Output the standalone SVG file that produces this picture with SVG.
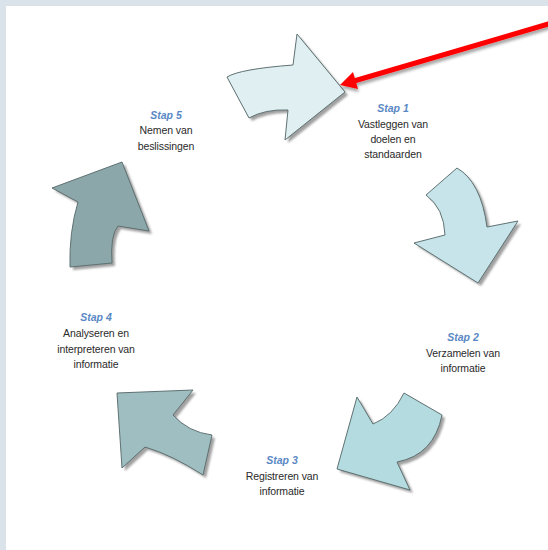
<svg xmlns="http://www.w3.org/2000/svg" width="548" height="550" viewBox="0 0 548 550">
  <style>
    .arrow { stroke: #5f7172; stroke-width: 1; stroke-linejoin: miter; }
    .shadow { fill: #a0a0a0; filter: url(#blur); }
    .step { font-family: "Liberation Sans", Arial, sans-serif; font-size: 10.5px; font-style: italic; font-weight: bold; fill: #5a88c4; text-anchor: middle; }
    .lbl { font-family: "Liberation Sans", Arial, sans-serif; font-size: 10.5px; fill: #2a2a2a; text-anchor: middle; letter-spacing: -0.1px; }
  </style>
  <defs>
    <filter id="blur" x="-20%" y="-20%" width="140%" height="140%">
      <feGaussianBlur stdDeviation="0.8"/>
    </filter>
    <filter id="redShadow" x="-10%" y="-50%" width="120%" height="200%">
      <feGaussianBlur in="SourceAlpha" stdDeviation="1.5"/>
      <feOffset dx="1" dy="3" result="b"/>
      <feComponentTransfer><feFuncA type="linear" slope="0.35"/></feComponentTransfer>
      <feMerge><feMergeNode/><feMergeNode in="SourceGraphic"/></feMerge>
    </filter>
    <path id="a1" d="M227,77 Q240,69 293,65 L297,34 L345,92 L285,140 L288,110 Q265,109 249,118 Z"/>
    <path id="a2" d="M457,168 Q481,182 487,227 L518,221 L478,283 L414,243 L445,235 Q444,208 426,195 Z"/>
    <path id="a3" d="M404,393 L442,415 Q434,455 397,462 L410,490 L337,469 L357,397 L373,424 Q393,416 404,393 Z"/>
    <path id="a4" d="M117,393 L193,390 L173,415 Q188,432 212,435 L203,475 Q172,455 145,447 L122,468 Z"/>
    <path id="a5" d="M52,188 L122,162 L149,231 L118,226 Q110,235 112,263 L70,267 Q69,232 78,202 Z"/>
  </defs>

  <rect x="0" y="0" width="548" height="550" fill="#dbe3ea"/>
  <rect x="6" y="6" width="542" height="544" fill="#ffffff"/>

  <g id="step1">
    <use href="#a1" class="shadow" transform="translate(3,3)"/>
    <use href="#a1" class="arrow" fill="#dfeff2"/>
    <text class="step" x="393" y="112">Stap 1</text>
    <text class="lbl" x="393" y="128">Vastleggen van</text>
    <text class="lbl" x="393" y="143">doelen en</text>
    <text class="lbl" x="393" y="158">standaarden</text>
  </g>

  <g id="step2">
    <use href="#a2" class="shadow" transform="translate(3,3)"/>
    <use href="#a2" class="arrow" fill="#c6e4e9"/>
    <text class="step" x="463" y="341">Stap 2</text>
    <text class="lbl" x="463" y="357">Verzamelen van</text>
    <text class="lbl" x="463" y="372">informatie</text>
  </g>

  <g id="step3">
    <use href="#a3" class="shadow" transform="translate(3,3)"/>
    <use href="#a3" class="arrow" fill="#b3dbe0"/>
    <text class="step" x="282" y="464">Stap 3</text>
    <text class="lbl" x="282" y="480">Registreren van</text>
    <text class="lbl" x="282" y="495">informatie</text>
  </g>

  <g id="step4">
    <use href="#a4" class="shadow" transform="translate(3,3)"/>
    <use href="#a4" class="arrow" fill="#9fbec1"/>
    <text class="step" x="96" y="321">Stap 4</text>
    <text class="lbl" x="96" y="337">Analyseren en</text>
    <text class="lbl" x="96" y="353">interpreteren van</text>
    <text class="lbl" x="96" y="368">informatie</text>
  </g>

  <g id="step5">
    <use href="#a5" class="shadow" transform="translate(3,3)"/>
    <use href="#a5" class="arrow" fill="#8ba7aa"/>
    <text class="step" x="166" y="119">Stap 5</text>
    <text class="lbl" x="166" y="134">Nemen van</text>
    <text class="lbl" x="166" y="150">beslissingen</text>
  </g>

  <g id="connectors" filter="url(#redShadow)">
    <line x1="550" y1="23.5" x2="354" y2="81" stroke="#ff0000" stroke-width="5"/>
    <polygon points="340,85 353,72 358,89" fill="#ff0000"/>
  </g>
</svg>
